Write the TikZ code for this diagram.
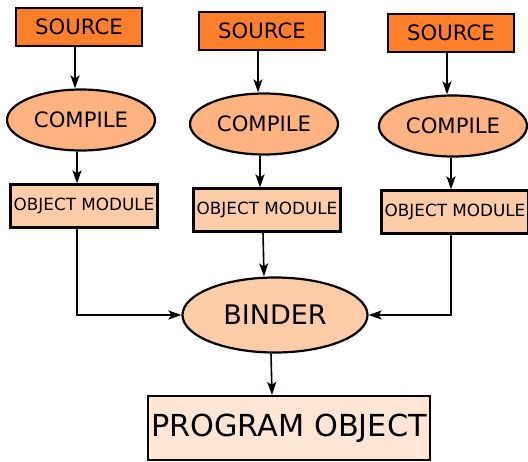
\documentclass[tikz,border=0pt]{standalone}
\usepackage{fontspec}
\setmainfont{DejaVu Sans}
\usetikzlibrary{arrows.meta,shapes.geometric}

\definecolor{srcorange}{RGB}{255,127,42}
\definecolor{cmplight}{RGB}{255,179,128}
\definecolor{objpeach}{RGB}{255,204,170}
\definecolor{progcream}{RGB}{255,230,213}

\tikzset{
  srcbox/.style={draw,line width=2.2pt,fill=srcorange,inner sep=0pt,
    minimum width=126pt,minimum height=38pt,font=\fontsize{21.2}{24}\selectfont},
  cmpnode/.style={ellipse,draw,line width=2.2pt,fill=cmplight,inner sep=0pt,
    minimum width=148pt,minimum height=61pt,font=\fontsize{21.2}{24}\selectfont},
  objbox/.style={draw,line width=2.2pt,fill=objpeach,inner sep=0pt,
    minimum width=147pt,minimum height=43pt,font=\fontsize{16.8}{19}\selectfont},
  bindnode/.style={ellipse,draw,line width=2.2pt,fill=objpeach,inner sep=0pt,
    minimum width=185pt,minimum height=75pt,font=\fontsize{27}{30}\selectfont},
  progbox/.style={draw,line width=2.2pt,fill=progcream,inner sep=0pt,
    minimum width=282pt,minimum height=64pt,font=\fontsize{30.3}{34}\selectfont},
  arr/.style={-{Stealth[length=13pt,width=9pt,inset=3pt]},line width=1.6pt}
}

\begin{document}
\begin{tikzpicture}[x=1pt,y=-1pt]
  \useasboundingbox (0,0) rectangle (528,461);

  % sources
  \node[srcbox] (s1) at (79,27) {SOURCE};
  \node[srcbox] (s2) at (262,31) {SOURCE};
  \node[srcbox] (s3) at (451,33) {SOURCE};

  % compile steps
  \node[cmpnode] (c1) at (81,120) {COMPILE};
  \node[cmpnode] (c2) at (264,124) {COMPILE};
  \node[cmpnode] (c3) at (453,126) {COMPILE};

  % object modules
  \node[objbox] (o1) at (84,206) {OBJECT MODULE};
  \node[objbox] (o2) at (267,210) {OBJECT MODULE};
  \node[objbox] (o3) at (455,212) {OBJECT MODULE};

  % binder and result
  \node[bindnode] (bind) at (275,315) {BINDER};
  \node[progbox] (prog) at (289,428) {PROGRAM OBJECT};

  \draw[arr] ([xshift=-4pt]s1.south) -- ([xshift=-6pt]c1.north);
  \draw[arr] ([xshift=-4pt]s2.south) -- ([xshift=-6pt]c2.north);
  \draw[arr] ([xshift=-4pt]s3.south) -- ([xshift=-6pt]c3.north);

  \draw[arr] ([xshift=-4pt]c1.south) -- ([xshift=-7pt]o1.north);
  \draw[arr] ([xshift=-4pt]c2.south) -- ([xshift=-7pt]o2.north);
  \draw[arr] ([xshift=-2pt]c3.south) -- ([xshift=-4pt]o3.north);

  \draw[arr] ([xshift=-7pt]o1.south) |- (bind.west);
  \draw[arr] ([xshift=-4pt]o2.south) -- ([xshift=-11pt]bind.north);
  \draw[arr] ([xshift=-4pt]o3.south) |- (bind.east);

  \draw[arr] ([xshift=-4pt]bind.south) -- ([xshift=-17pt]prog.north);
\end{tikzpicture}
\end{document}
